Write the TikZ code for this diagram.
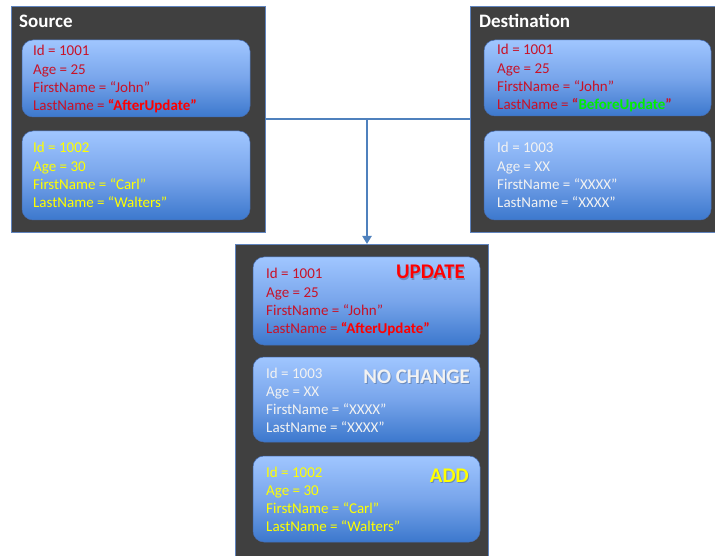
\documentclass[tikz,border=0pt]{standalone}
\usepackage{fontspec}
\setmainfont{Carlito}
\usetikzlibrary{arrows.meta}
\definecolor{panelgray}{RGB}{64,64,64}
\definecolor{panelblue}{RGB}{96,132,190}
\definecolor{rectop}{RGB}{160,198,255}
\definecolor{recmid}{RGB}{120,165,235}
\definecolor{recbot}{RGB}{60,120,205}
\definecolor{recedge}{RGB}{70,110,180}
\definecolor{txtred}{RGB}{200,18,40}
\definecolor{hotred}{RGB}{255,0,0}
\definecolor{txtyel}{RGB}{255,255,0}
\definecolor{txtgreen}{RGB}{0,240,0}
\definecolor{txtwhite}{RGB}{242,242,242}
\definecolor{linkblue}{RGB}{79,129,189}
\tikzset{
  panel/.style={draw=panelblue, line width=0.8pt, fill=panelgray},
  recbox/.style={draw=recedge, line width=0.5pt, rounded corners=11pt,
    top color=rectop, bottom color=recbot, middle color=recmid},
  rtxt/.style={inner sep=0pt, anchor=base west, font=\fontsize{15}{18}\selectfont},
  ptitle/.style={inner sep=0pt, anchor=base west, text=white, font=\bfseries\fontsize{19}{22}\selectfont},
  status/.style={inner sep=0pt, anchor=base east, font=\bfseries\fontsize{20.8}{24}\selectfont},
  link/.style={draw=linkblue, line width=2pt},
}
\newcommand\rectext[8]{%
  \node[rtxt,text=#4] (#1-1) at (#2,#3) {#5};
  \node[rtxt,text=#4] (#1-2) at (#2,#3+18.2) {#6};
  \node[rtxt,text=#4] (#1-3) at (#2,#3+36.4) {#7};
  \node[rtxt,text=#4] (#1-4) at (#2,#3+54.6) {#8};
}
\begin{document}
\begin{tikzpicture}[x=1pt,y=-1pt]
\useasboundingbox[fill=white] (0,0) rectangle (715,556);

% panels
\draw[panel] (11,6) rectangle (265,232);
\draw[panel] (470,6) rectangle (718,232);
\draw[panel] (235,244) rectangle (488,560);

% connectors
\coordinate (srcR) at (265,119);
\coordinate (dstL) at (470,119);
\coordinate (junc) at (367,119);
\coordinate (resT) at (367,244);
\draw[link] (srcR) -- (dstL);
\draw[link, -{Triangle[length=8pt,width=9pt]}] (junc) -- (resT);

% titles
\node[ptitle] (srcTitle) at (19,28) {Source};
\node[ptitle] (dstTitle) at (479,28) {Destination};

% source records
\draw[recbox] (22,40) rectangle (250,117);
\draw[recbox] (22,131) rectangle (250,220);
\rectext{s1}{33}{56}{txtred}{Id = 1001}{Age = 25}{FirstName = “John”}{LastName = \textcolor{hotred}{\bfseries “AfterUpdate”}}
\rectext{s2}{33}{153}{txtyel}{Id = 1002}{Age = 30}{FirstName = “Carl”}{LastName = “Walters”}

% destination records
\draw[recbox] (484,40) rectangle (711,116);
\draw[recbox] (484,131) rectangle (711,220);
\rectext{d1}{497}{55}{txtred}{Id = 1001}{Age = 25}{FirstName = “John”}{LastName = \textbf{“\textcolor{txtgreen}{BeforeUpdate}”}}
\rectext{d2}{497}{153}{txtwhite}{Id = 1003}{Age = XX}{FirstName = “XXXX”}{LastName = “XXXX”}

% result records
\draw[recbox] (253,257) rectangle (480,345);
\draw[recbox] (253,357) rectangle (480,442);
\draw[recbox] (253,456) rectangle (480,542);
\rectext{r1}{266}{279}{txtred}{Id = 1001}{Age = 25}{FirstName = “John”}{LastName = \textcolor{hotred}{\bfseries “AfterUpdate”}}
\rectext{r2}{266}{378}{txtwhite}{Id = 1003}{Age = XX}{FirstName = “XXXX”}{LastName = “XXXX”}
\rectext{r3}{266}{477}{txtyel}{Id = 1002}{Age = 30}{FirstName = “Carl”}{LastName = “Walters”}

% status labels (soft shadow + text)
\node[status, text=black, opacity=0.22] (updShadow) at (466,280) {UPDATE};
\node[status, text=hotred] (upd) at (465,279) {UPDATE};
\node[status, text=black, opacity=0.22] (ncShadow) at (471,384) {NO CHANGE};
\node[status, text=txtwhite] (nc) at (470,383) {NO CHANGE};
\node[status, text=black, opacity=0.22] (addShadow) at (470,483) {ADD};
\node[status, text=txtyel] (add) at (469,482) {ADD};
\end{tikzpicture}
\end{document}
